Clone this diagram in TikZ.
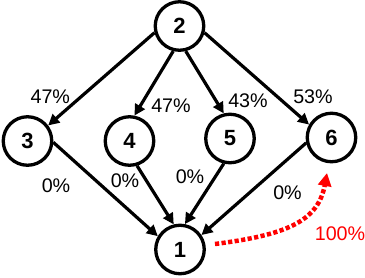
\documentclass[tikz,border=0pt]{standalone}
\usepackage{fontspec}
\setmainfont{Liberation Sans}
\usetikzlibrary{arrows.meta}
\begin{document}
\begin{tikzpicture}[x=1pt,y=-1pt,
  vertex/.style={circle,draw,line width=3.3pt,minimum size=48.5pt,inner sep=0pt,
    font=\fontsize{22}{22}\selectfont\bfseries},
  link/.style={line width=3.2pt,-{Triangle[length=11pt,width=11pt]}},
  pct/.style={font=\fontsize{19.7}{20}\selectfont,inner sep=0pt},
  redlink/.style={red,line width=4.5pt,dash pattern=on 4.2pt off 2.4pt,
    -{Triangle[length=13pt,width=13pt]}}]
\useasboundingbox (0,0) rectangle (365,277);
\node[vertex] (n2) at (179.5,26) {2};
\node[vertex] (n3) at (27.5,141) {3};
\node[vertex] (n4) at (129.5,141) {4};
\node[vertex] (n5) at (230,138.5) {5};
\node[vertex] (n6) at (331.5,137.5) {6};
\node[vertex] (n1) at (180,249.5) {1};
\draw[link] (n2.195) -- (n3.37);
\draw[link] (n2.256) -- (n4.79);
\draw[link] (n2.284) -- (n5.104);
\draw[link] (n2.345) -- (n6.150);
\draw[link] (n3.-3) -- (n1.149);
\draw[link] (n4.287) -- (n1.104);
\draw[link] (n5.256) -- (n1.79);
\draw[link] (n6.192) -- (n1.34);
\node[pct] (p23) at (50.3,97) {47\%};
\node[pct] (p24) at (171,106) {47\%};
\node[pct] (p25) at (248,100.5) {43\%};
\node[pct] (p26) at (313,97) {53\%};
\node[pct] (p31) at (56,186) {0\%};
\node[pct] (p41) at (125,181) {0\%};
\node[pct] (p51) at (190,177) {0\%};
\node[pct] (p61) at (287.5,192.5) {0\%};
\node[pct,red] (p16) at (340,234) {100\%};
\coordinate (rs) at (215,244);
\coordinate (re) at (327,173);
\draw[redlink] (rs) .. controls (285,235) and (318,222) .. (re);
\end{tikzpicture}
\end{document}
